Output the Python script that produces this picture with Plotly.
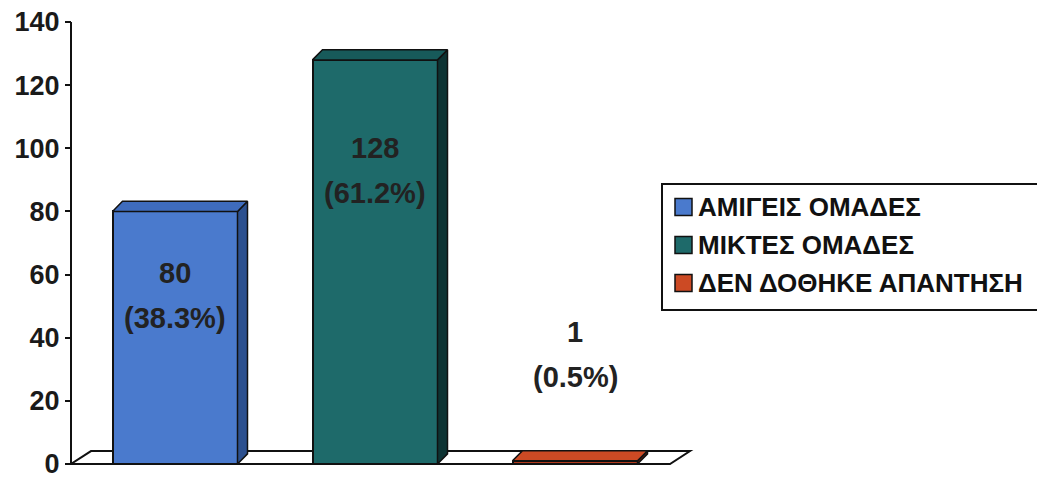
import plotly.graph_objects as go

# Data
categories = ["ΑΜΙΓΕΙΣ ΟΜΑΔΕΣ", "ΜΙΚΤΕΣ ΟΜΑΔΕΣ", "ΔΕΝ ΔΟΘΗΚΕ ΑΠΑΝΤΗΣΗ"]
counts = [80, 128, 1]
percents = [38.3, 61.2, 0.5]
y_ticks = [0, 20, 40, 60, 80, 100, 120, 140]

# Styling
front_colors = ["#4a7acd", "#1e6a6a", "#b23a1c"]
side_colors = ["#2c508f", "#0d3333", "#5a1a0c"]
top_colors = ["#3f6cbd", "#175a5a", "#cc4a24"]
label_y = [53.5, 93.0, 35.0]          # vertical centre of each two-line label
W, H = 1037, 479
BAR_W = 0.625
DX, DY = 0.05, 3.2                    # bar depth offset (x units, y units)
FLOOR_DX, FLOOR_DY = 0.1, 4.1         # floor depth offset

# pixel layout of the plotting area
X_MIN, X_MAX = -0.56, 2.62
PX_LEFT, PX_PER_X = 63, 200
Y_MIN, Y_MAX = -2, 140
PX_Y0, PX_Y140 = 464, 22
px_per_y = (PX_Y0 - PX_Y140) / 140
dom_x = [PX_LEFT / W, (PX_LEFT + (X_MAX - X_MIN) * PX_PER_X) / W]
dom_y = [(H - (PX_Y0 - Y_MIN * px_per_y)) / H, (H - PX_Y140) / H]
axis_px = 71
axis_x = X_MIN + (axis_px - PX_LEFT) / PX_PER_X

font_family = "Liberation Sans, Arial, sans-serif"
ink = "#111111"
fig = go.Figure()

xs = list(range(len(categories)))

# Front faces
for i, (cat, v) in enumerate(zip(categories, counts)):
    fig.add_trace(go.Bar(
        x=[xs[i]], y=[v], width=BAR_W, name=cat, showlegend=False,
        marker=dict(color=front_colors[i], line=dict(color=ink, width=2)),
        hoverinfo="skip",
    ))

# Side and top faces
for i, v in enumerate(counts):
    xr = xs[i] + BAR_W / 2
    xl = xs[i] - BAR_W / 2
    fig.add_trace(go.Scatter(
        x=[xr, xr + DX, xr + DX, xr, xr],
        y=[0, DY, v + DY, v, 0],
        fill="toself", fillcolor=side_colors[i], mode="lines",
        line=dict(color=ink, width=1.5), showlegend=False, hoverinfo="skip",
    ))
    fig.add_trace(go.Scatter(
        x=[xl, xr, xr + DX, xl + DX, xl],
        y=[v, v, v + DY, v + DY, v],
        fill="toself", fillcolor=top_colors[i], mode="lines",
        line=dict(color=ink, width=1.5), showlegend=False, hoverinfo="skip",
    ))

# Floor and value axis line
n = len(categories)
fl, fr = axis_x, axis_x + n - 0.005
floor_path = (f"M{fl},0 L{fr},0 L{fr + FLOOR_DX},{FLOOR_DY} "
              f"L{fl + FLOOR_DX},{FLOOR_DY} Z")
shapes = [
    dict(type="path", path=floor_path, xref="x", yref="y", layer="below",
         fillcolor="white", line=dict(color=ink, width=2)),
    dict(type="line", xref="paper", yref="y", x0=axis_px / W, x1=axis_px / W,
         y0=0, y1=140, line=dict(color=ink, width=2)),
]

# Data labels
annotations = []
for i, (v, p) in enumerate(zip(counts, percents)):
    for txt, shift in ((f"{v}", 22), (f"({p}%)", -23)):
        annotations.append(dict(
            x=xs[i], y=label_y[i], xref="x", yref="y", text=f"<b>{txt}</b>",
            showarrow=False, yshift=shift,
            font=dict(family=font_family, size=29, color="#222222"),
        ))

# Legend box with colour keys
LEG_L, LEG_T, LEG_B = 662, 184, 310
leg_rows = [207, 245, 283]
shapes.append(dict(type="rect", xref="paper", yref="paper",
                   x0=LEG_L / W, x1=(W + 10) / W,
                   y0=(H - LEG_B) / H, y1=(H - LEG_T) / H,
                   fillcolor="white", line=dict(color=ink, width=2)))
for i, cat in enumerate(categories):
    cy = leg_rows[i]
    shapes.append(dict(type="rect", xref="paper", yref="paper",
                       x0=675 / W, x1=692 / W,
                       y0=(H - cy - 8.5) / H, y1=(H - cy + 8.5) / H,
                       fillcolor=front_colors[i] if i < 2 else top_colors[i],
                       line=dict(color=ink, width=1.5)))
    annotations.append(dict(
        x=696 / W, y=(H - cy) / H, xref="paper", yref="paper",
        xanchor="left", yanchor="middle", text=f"<b>{cat}</b>",
        showarrow=False,
        font=dict(family=font_family, size=26, color=ink, weight="bold"),
    ))

fig.update_layout(
    width=W, height=H,
    margin=dict(l=0, r=0, t=0, b=0, autoexpand=False),
    paper_bgcolor="white", plot_bgcolor="rgba(0,0,0,0)",
    barmode="overlay", bargap=0,
    shapes=shapes, annotations=annotations,
    xaxis=dict(domain=dom_x, range=[X_MIN, X_MAX], visible=False),
    yaxis=dict(
        domain=dom_y, range=[Y_MIN, Y_MAX], anchor="free", position=axis_px / W,
        tickvals=y_ticks, ticks="outside", ticklen=6, tickwidth=2,
        tickcolor=ink, showline=False, showgrid=False, zeroline=False,
        ticklabeloverflow="allow",
        tickfont=dict(family=font_family, size=27, color="#1a1a1a", weight="bold"),
    ),
    showlegend=False,
)

fig.write_html("out.html")
